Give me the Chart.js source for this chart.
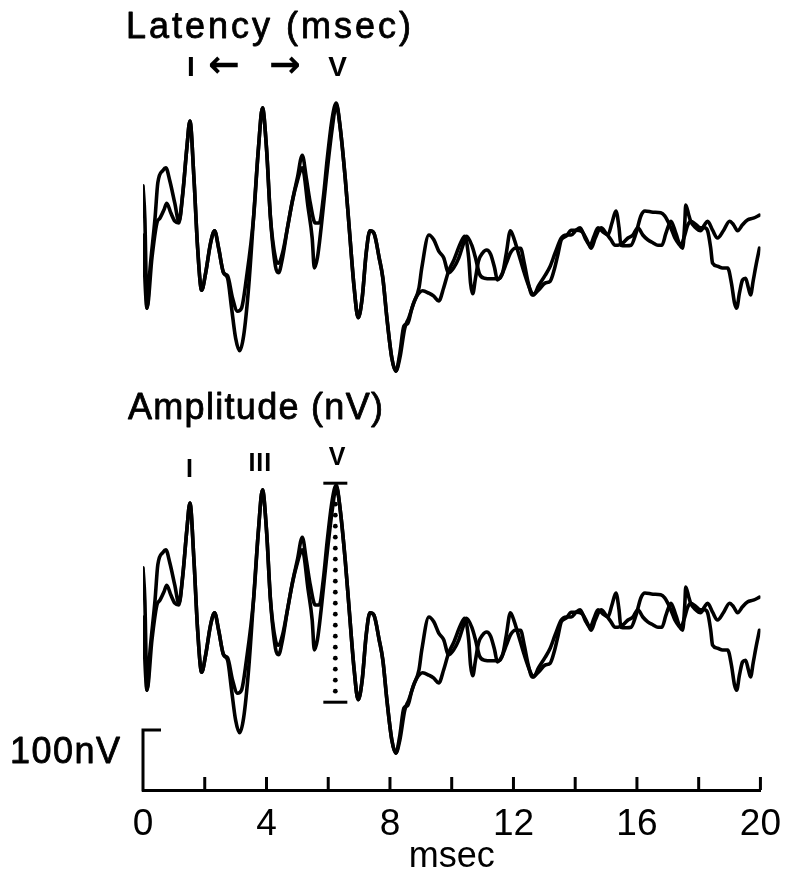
<!DOCTYPE html>
<html><head><meta charset="utf-8">
<script src="https://cdn.jsdelivr.net/npm/chart.js@4/dist/chart.umd.min.js"></script>
<style>html,body{margin:0;padding:0;background:#fff}#wrap{width:789px;height:878px;position:relative}</style>
</head><body><div id="wrap"><canvas id="c" width="789" height="878"></canvas></div>
<script>
// ---- data (msec, nV) ----
const timeA = [0,0.06,0.13,0.23,0.39,0.48,0.65,0.74,0.87,1.03,
 1.16,1.29,1.42,1.52,1.65,1.77,1.9,2.03,2.19,2.32,
 2.45,2.61,2.74,2.87,3.0,3.13,3.26,3.42,3.58,3.74,
 3.87,4.0,4.13,4.29,4.39,4.52,4.68,4.84,5.0,5.16,
 5.29,5.42,5.58,5.71,5.84,5.97,6.13,6.26,6.39,6.55,
 6.68,6.84,6.97,7.1,7.23,7.35,7.48,7.65,7.77,7.9,
 8.06,8.19,8.32,8.48,8.61,8.77,8.94,9.03,9.26,9.42,
 9.58,9.74,9.9,10.06,10.23,10.39,10.48,10.65,10.77,10.9,
 11.06,11.29,11.52,11.65,11.77,11.9,12.03,12.16,12.35,12.55,
 12.65,12.81,13.03,13.19,13.35,13.55,13.71,13.87,14.03,14.16,
 14.32,14.48,14.61,14.74,14.9,15.06,15.19,15.32,15.42,15.48,
 15.65,15.81,15.97,16.13,16.26,16.52,16.77,16.9,17.0,17.13,
 17.23,17.39,17.48,17.55,17.58,17.68,17.74,17.9,18.06,18.19,
 18.29,18.45,18.61,18.81,19.0,19.13,19.26,19.42,19.58,19.77,
 19.97];
const ampA = [87,33,-117,-50,33,92,113,117,95,58,
 28,75,150,195,100,-17,-87,-58,-8,12,
 -17,-58,-67,-117,-167,-188,-163,-83,33,150,
 217,150,33,-47,-58,-33,17,62,100,138,
 100,58,25,25,67,133,200,225,183,100,
 17,-83,-133,-100,-25,12,8,-33,-67,-133,
 -200,-222,-200,-150,-133,-108,-83,-50,5,-3,
 -22,-33,-58,-50,-33,-8,3,-12,-33,-60,
 -67,-68,-68,-58,-25,12,-3,-25,-58,-87,
 -95,-80,-62,-47,-25,0,5,5,13,17,
 0,-12,3,17,10,5,25,45,17,-12,
 -13,-12,8,37,45,43,42,37,28,13,
 0,-12,-17,25,55,38,28,17,12,22,
 28,13,0,13,28,22,12,22,30,33,
 38];
const timeB = [0,0.13,0.29,0.45,0.55,0.68,0.77,0.9,1.03,1.16,
 1.29,1.42,1.52,1.65,1.77,1.9,2.03,2.19,2.32,2.45,
 2.61,2.74,2.9,3.06,3.19,3.35,3.58,3.74,3.87,4.0,
 4.13,4.29,4.39,4.52,4.68,4.84,5.0,5.16,5.35,5.48,
 5.55,5.65,5.77,5.94,6.13,6.26,6.39,6.55,6.68,6.84,
 6.97,7.1,7.23,7.35,7.48,7.65,7.77,7.9,8.06,8.19,
 8.32,8.45,8.58,8.71,8.87,9.06,9.26,9.42,9.58,9.74,
 9.9,10.06,10.29,10.42,10.55,10.61,10.68,10.77,10.87,11.0,
 11.13,11.26,11.39,11.48,11.61,11.77,11.9,12.06,12.23,12.35,
 12.48,12.61,12.81,13.03,13.19,13.32,13.45,13.55,13.71,13.87,
 14.03,14.23,14.42,14.52,14.65,14.84,15.0,15.16,15.29,15.39,
 15.55,15.71,15.87,16.03,16.19,16.35,16.52,16.68,16.81,16.94,
 17.1,17.26,17.42,17.52,17.65,17.74,17.9,18.06,18.19,18.29,
 18.39,18.45,18.61,18.77,18.94,19.06,19.16,19.23,19.32,19.42,
 19.52,19.61,19.68,19.77,19.87,19.97];
const ampB = [5,-117,-33,25,33,47,58,42,28,25,
 75,150,195,100,-17,-87,-58,-8,12,-17,
 -58,-63,-100,-122,-117,-67,33,150,217,150,
 33,-33,-42,-25,17,62,95,117,50,0,
 -50,-33,17,100,183,222,183,100,17,-83,
 -133,-100,-25,12,8,-33,-67,-133,-200,-222,
 -192,-147,-142,-117,-97,-88,-92,-97,-105,-83,
 -55,-38,-8,3,-33,-75,-93,-67,-38,-25,
 -20,-27,-50,-70,-62,-42,-25,-17,-17,-42,
 -75,-95,-87,-75,-72,-53,-25,-3,3,13,
 13,10,-8,-17,0,17,8,-3,-12,-12,
 -8,0,5,17,5,-3,-8,-12,-12,8,
 28,8,-13,0,22,28,23,17,17,12,
 -17,-42,-47,-50,-50,-75,-108,-117,-92,-70,
 -67,-83,-95,-70,-42,-17];
const xTickValues = [0,2,4,6,8,10,12,14,16,18,20];
const xLabelValues = [0,4,8,12,16,20];
const scaleBarNV = 100;
const topPeakNames = ['I','V'];
const topPeakLatency = [1.55, 6.3];
const bottomPeakNames = ['I','III','V'];
const bottomPeakLatency = [1.52, 3.8, 6.3];
const waveVLatency = 6.23;
const waveVAmplitude = [228, -137]; // peak, following trough (nV)

const pts = (t, a) => t.map((v, i) => ({x: v, y: a[i]}));
const lineStyle = {borderColor:'#000', borderWidth:3.6, pointRadius:0, cubicInterpolationMode:'monotone', borderJoinStyle:'round', borderCapStyle:'round', fill:false};

function txt(ctx, s, x, y, font, align, spacing, stroke) {
  ctx.save();
  ctx.font = font; ctx.fillStyle = '#000'; ctx.strokeStyle = '#000';
  ctx.textAlign = align; ctx.textBaseline = 'middle';
  ctx.letterSpacing = (spacing || 0) + 'px';
  ctx.fillText(s, x, y);
  if (stroke) { ctx.lineWidth = stroke; ctx.lineJoin = 'round'; ctx.strokeText(s, x, y); }
  ctx.restore();
}

const decor = {
  id: 'decor',
  afterDraw(chart) {
    const ctx = chart.ctx, xs = chart.scales.x, yb = chart.scales.yBot;
    const axisY = chart.chartArea.bottom;
    ctx.save();
    ctx.strokeStyle = '#000'; ctx.lineWidth = 3; ctx.lineCap = 'butt';
    // inward tick marks
    xTickValues.forEach(v => {
      if (v === 0) return;
      const px = xs.getPixelForValue(v);
      ctx.beginPath(); ctx.moveTo(px, axisY); ctx.lineTo(px, axisY - 13); ctx.stroke();
    });
    // 100 nV calibration bracket
    const h = yb.getPixelForValue(0) - yb.getPixelForValue(scaleBarNV);
    const x0 = xs.getPixelForValue(0);
    ctx.beginPath(); ctx.moveTo(x0 + 18, axisY - h); ctx.lineTo(x0, axisY - h); ctx.lineTo(x0, axisY + 1.5); ctx.stroke();
    // wave V amplitude measurement
    const vx = xs.getPixelForValue(waveVLatency);
    const vy1 = yb.getPixelForValue(waveVAmplitude[0]);
    const vy2 = yb.getPixelForValue(waveVAmplitude[1]);
    ctx.beginPath(); ctx.moveTo(vx - 12, vy1); ctx.lineTo(vx + 12, vy1); ctx.stroke();
    ctx.beginPath(); ctx.moveTo(vx - 12, vy2); ctx.lineTo(vx + 12, vy2); ctx.stroke();
    ctx.fillStyle = '#000';
    for (let y = vy1 + 10; y < vy2 - 4; y += 11) {
      ctx.beginPath(); ctx.arc(vx, y, 2.4, 0, Math.PI * 2); ctx.fill();
    }
    ctx.restore();
    // texts
    const F = '"Liberation Sans", Arial, sans-serif';
    txt(ctx, '100nV', 10, axisY - h + 23, '36px ' + F, 'left', 1.5, 0.8);
    txt(ctx, 'Latency (msec)', 126, 28, '36px ' + F, 'left', 3, 0.8);
    txt(ctx, 'Amplitude (nV)', 128, 409, '36px ' + F, 'left', 1.3, 0.8);
    const f1 = 'bold 28px ' + F;
    topPeakNames.forEach((n, i) => txt(ctx, n, xs.getPixelForValue(topPeakLatency[i]), 68, f1, 'center', 0));
    txt(ctx, '\u2190', 224, 67, 'bold 38px "DejaVu Sans", sans-serif', 'center', 0);
    txt(ctx, '\u2192', 285, 67, 'bold 38px "DejaVu Sans", sans-serif', 'center', 0);
    const f2 = 'bold 25px ' + F;
    const by = [470, 464, 458];
    bottomPeakNames.forEach((n, i) => txt(ctx, n, xs.getPixelForValue(bottomPeakLatency[i]), by[i], f2, 'center', 1));
  }
};

new Chart(document.getElementById('c'), {
  type: 'line',
  data: {
    datasets: [
      Object.assign({label:'latency A', data: pts(timeA, ampA), yAxisID:'yTop'}, lineStyle),
      Object.assign({label:'latency B', data: pts(timeB, ampB), yAxisID:'yTop'}, lineStyle),
      Object.assign({label:'amplitude A', data: pts(timeA, ampA), yAxisID:'yBot'}, lineStyle),
      Object.assign({label:'amplitude B', data: pts(timeB, ampB), yAxisID:'yBot'}, lineStyle)
    ]
  },
  options: {
    responsive: false, animation: false, devicePixelRatio: 1,
    layout: {padding: {left: 143, right: 26, top: 50, bottom: 0}},
    plugins: {legend: {display: false}, tooltip: {enabled: false}},
    scales: {
      x: {
        type: 'linear', min: 0, max: 20, position: 'bottom',
        grid: {display: false},
        border: {display: true, color: '#000', width: 3},
        afterBuildTicks: s => { s.ticks = xLabelValues.map(v => ({value: v})); },
        ticks: {color: '#000', padding: 8, maxRotation: 0, autoSkip: false,
          font: {family: '"Liberation Sans", Arial, sans-serif', size: 37, lineHeight: 1.0}},
        title: {display: true, text: 'msec', color: '#000', padding: {top: 0, bottom: 3},
          font: {family: '"Liberation Sans", Arial, sans-serif', size: 36, lineHeight: 1.0}},
        afterFit: s => { s.height = 88; }
      },
      yTop: {type: 'linear', display: false, min: -920, max: 313.33},
      yBot: {type: 'linear', display: false, min: -283.33, max: 950}
    }
  },
  plugins: [decor]
});
</script></body></html>
